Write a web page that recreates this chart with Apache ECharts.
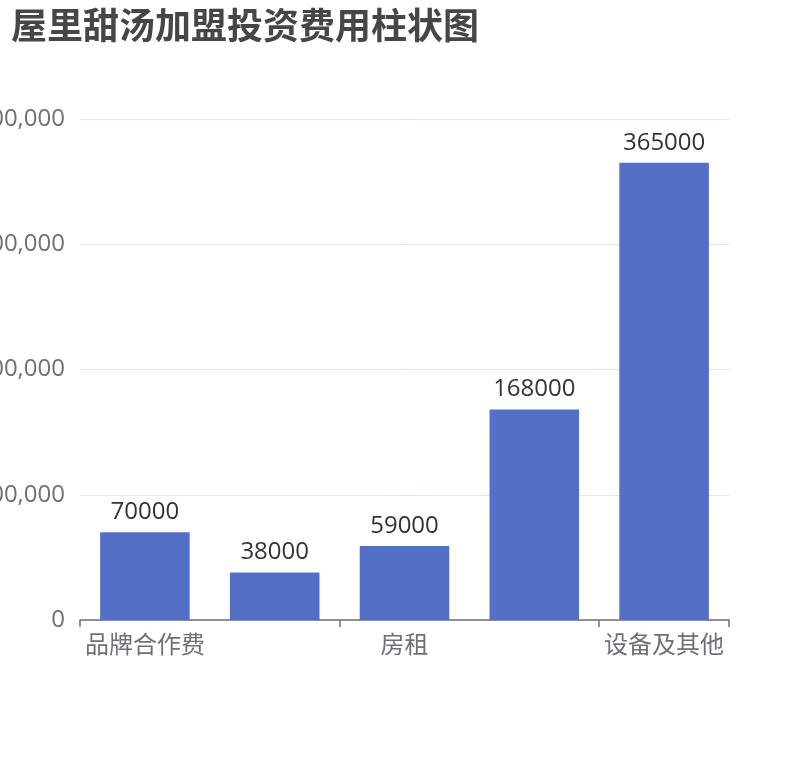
<!DOCTYPE html>
<html lang="zh-CN">
<head>
    <meta charset="UTF-8">
    <title>屋里甜汤加盟投资费用柱状图</title>
    <script src="https://cdn.jsdelivr.net/npm/echarts@6/dist/echarts.min.js"></script>
    <style>
        html, body { margin: 0; padding: 0; background: #fff; }
        #chart { width: 810px; height: 760px; }
    </style>
</head>
<body>
    <div id="chart"></div>

    <script type="text/javascript">
        // 数据
        var categories = ['品牌合作费', '装修费用', '房租', '首批进货费', '设备及其他'];
        var costs = [70000, 38000, 59000, 168000, 365000];

        var chart = echarts.init(document.getElementById('chart'));

        var option = {
            textStyle: { fontFamily: '"Open Sans", "Noto Sans CJK SC", sans-serif' },
            title: {
                text: '屋里甜汤加盟投资费用柱状图',
                left: 6,
                top: 2,
                textStyle: {
                    fontSize: 36,
                    fontWeight: 'bold',
                    color: '#464646',
                    fontFamily: '"Noto Sans CJK SC", sans-serif'
                }
            },
            grid: {
                left: 80,
                right: 81,
                top: 119,
                bottom: 140,
                outerBoundsMode: 'none'
            },
            xAxis: {
                type: 'category',
                data: categories,
                axisLine: { lineStyle: { color: '#6e7079', width: 1.5 } },
                axisTick: { show: true, length: 7, lineStyle: { color: '#6e7079', width: 1.5 } },
                axisLabel: { fontSize: 24, color: '#6e7079', margin: 14 }
            },
            yAxis: {
                type: 'value',
                min: 0,
                max: 400000,
                interval: 100000,
                axisLabel: { fontSize: 24, color: '#6e7079', margin: 15 },
                splitLine: { lineStyle: { color: '#e0e6f1' } }
            },
            series: [{
                name: '费用',
                type: 'bar',
                data: costs,
                barWidth: '69%',
                itemStyle: { color: '#5470c6' },
                label: {
                    show: true,
                    position: 'top',
                    distance: 8,
                    fontSize: 24,
                    color: '#333'
                }
            }]
        };

        chart.setOption(option);
    </script>
</body>
</html>
